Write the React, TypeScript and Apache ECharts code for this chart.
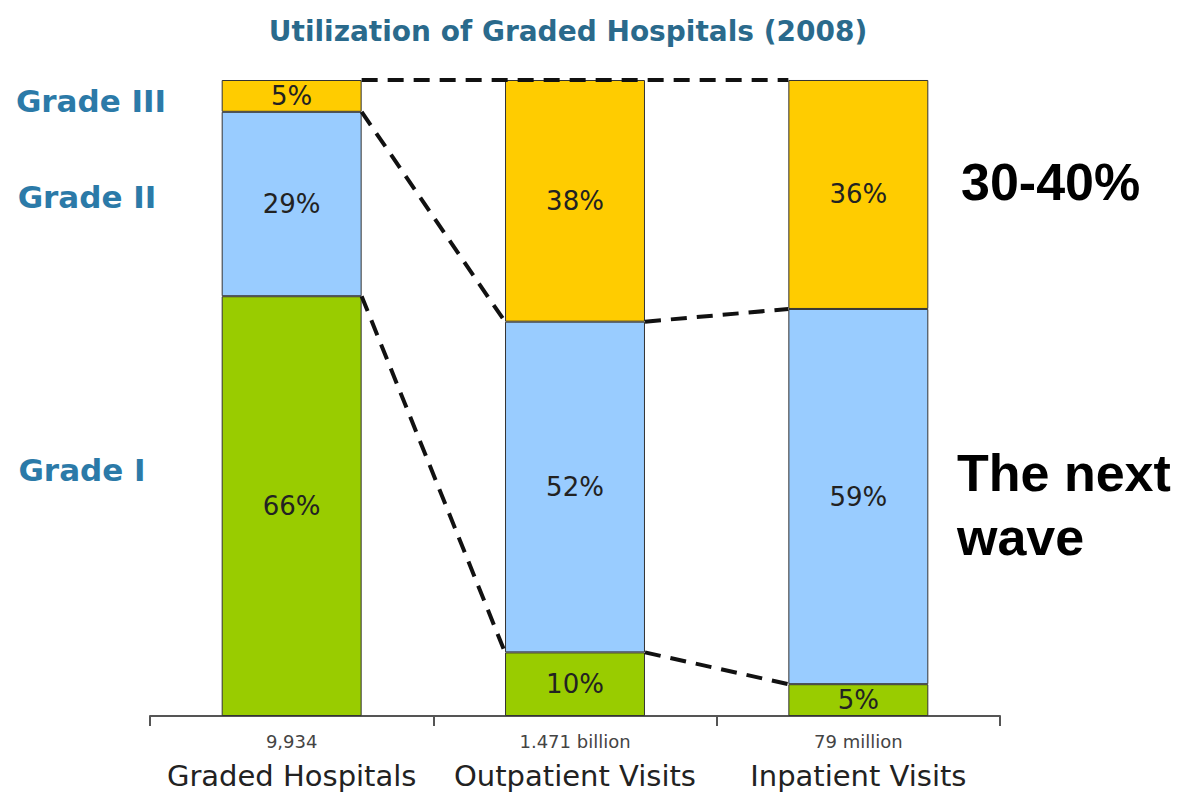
import React, { useEffect, useRef } from "react";
import * as echarts from "echarts";

const categories = ["Graded Hospitals", "Outpatient Visits", "Inpatient Visits"];
const totals = ["9,934", "1.471 billion", "79 million"];
const gradeI = [66, 10, 5];
const gradeII = [29, 52, 59];
const gradeIII = [5, 38, 36];
const gradeLabels = ["Grade III", "Grade II", "Grade I"];

const BAR_FRAC = 0.494;

export default function App() {
  const ref = useRef<HTMLDivElement>(null);
  useEffect(() => {
    document.body.style.margin = "0";
    const chart = echarts.init(ref.current!, null, { renderer: "svg" });
    const half = BAR_FRAC / 2;
    const b1 = gradeI;
    const b2 = gradeI.map((v, i) => v + gradeII[i]);
    const b3 = gradeI.map((v, i) => v + gradeII[i] + gradeIII[i]);
    const connectors: number[][][] = [
      [[0 + half, b3[0]], [2 - half, b3[2]]],
      [[0 + half, b2[0]], [1 - half, b2[1]]],
      [[0 + half, b1[0]], [1 - half, b1[1]]],
      [[1 + half, b2[1]], [2 - half, b2[2]]],
      [[1 + half, b1[1]], [2 - half, b1[2]]],
    ];
    const barLabel = {
      show: true,
      position: "inside",
      formatter: "{c}%",
      color: "#222",
      fontSize: 26,
      fontFamily: "DejaVu Sans",
    };
    const barCommon = {
      type: "bar",
      stack: "all",
      barWidth: BAR_FRAC * 100 + "%",
      label: barLabel,
      xAxisIndex: 0,
    };
    chart.setOption({
      animation: false,
      title: {
        text: "Utilization of Graded Hospitals (2008)",
        left: 563,
        textAlign: "center",
        top: 12,
        textStyle: { color: "#2a6a8c", fontSize: 28, fontWeight: "bold", fontFamily: "DejaVu Sans" },
      },
      grid: { left: 150, right: 179, top: 80, bottom: 78 },
      xAxis: [
        {
          type: "category",
          data: categories,
          axisLine: { lineStyle: { color: "#555", width: 2 } },
          axisTick: { show: true, length: 10, lineStyle: { color: "#555", width: 2 } },
          axisLabel: {
            margin: 12,
            formatter: (v: string, i: number) => `{a|${totals[i]}}\n{b|${v}}`,
            rich: {
              a: { fontSize: 18, color: "#444", fontFamily: "DejaVu Sans", lineHeight: 26 },
              b: { fontSize: 29, color: "#222", fontFamily: "DejaVu Sans", lineHeight: 44 },
            },
          },
        },
        { type: "value", min: -0.5, max: 2.5, show: false },
      ],
      yAxis: { type: "value", min: 0, max: 100, show: false },
      series: [
        { ...barCommon, name: "Grade I", data: gradeI, itemStyle: { color: "#99cc00", borderColor: "#333", borderWidth: 1 } },
        { ...barCommon, name: "Grade II", data: gradeII, itemStyle: { color: "#99ccff", borderColor: "#333", borderWidth: 1 } },
        { ...barCommon, name: "Grade III", data: gradeIII, itemStyle: { color: "#ffcc00", borderColor: "#333", borderWidth: 1 } },
        ...connectors.map((c) => ({
          type: "line",
          xAxisIndex: 1,
          data: c,
          symbol: "none",
          z: 5,
          lineStyle: { color: "#111", width: 4, type: [16, 10] },
        })),
      ],
      graphic: [
        ...gradeLabels.map((t, i) => ({
          type: "text",
          x: [91, 87, 82][i],
          y: [101, 197, 470][i],
          style: {
            text: t,
            fill: "#2b7aa8",
            font: "bold 31px 'DejaVu Sans'",
            textAlign: "center",
            textVerticalAlign: "middle",
          },
        })),
        {
          type: "text",
          x: 961,
          y: 182,
          style: { text: "30-40%", fill: "#000", font: "bold 52px 'Liberation Sans'", textVerticalAlign: "middle" },
        },
        {
          type: "text",
          x: 957,
          y: 505,
          style: {
            text: "The next\nwave",
            fill: "#000",
            font: "bold 52px 'Liberation Sans'",
            lineHeight: 64,
            textVerticalAlign: "middle",
          },
        },
      ],
    });
    return () => chart.dispose();
  }, []);
  return <div ref={ref} style={{ width: 1179, height: 794 }} />;
}
